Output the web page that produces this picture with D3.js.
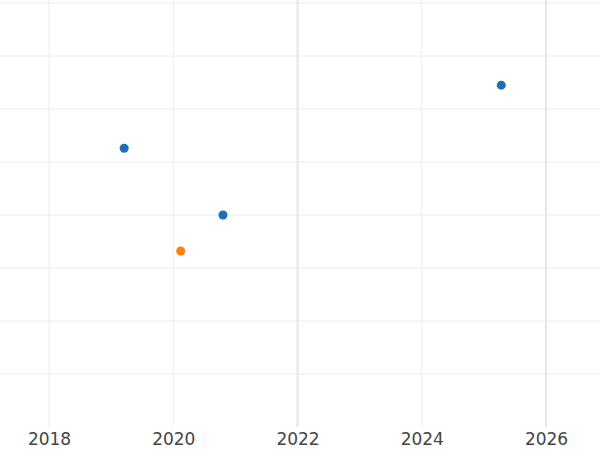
<!DOCTYPE html>
<html><head><meta charset="utf-8">
<script src="https://cdn.jsdelivr.net/npm/d3@7"></script>
<style>body{margin:0;background:#fff}</style></head>
<body><svg id="chart" width="600" height="450"></svg>
<script>
const years = [2019.21, 2020.80, 2020.12, 2025.28];
const values = [5.26, 4.0, 3.32, 6.45];
const groups = ["a", "a", "b", "a"];
const xTicks = [2018, 2020, 2022, 2024, 2026];
const yTicks = [1, 2, 3, 4, 5, 6, 7, 8];

const svg = d3.select("#chart");
const x = d3.scaleLinear().domain([2018, 2026]).range([49, 546]);
const y = d3.scaleLinear().domain([0, 8]).range([427, 3]);
const color = d3.scaleOrdinal().domain(["a", "b"]).range(["#1f6fb4", "#ff7f0e"]);

// gridlines
svg.append("g").selectAll("line").data(yTicks).join("line")
  .attr("x1", 0).attr("x2", 600)
  .attr("y1", d => y(d)).attr("y2", d => y(d))
  .attr("stroke", "#ececec").attr("stroke-width", 1);
svg.append("g").selectAll("line").data(xTicks).join("line")
  .attr("x1", d => x(d)).attr("x2", d => x(d))
  .attr("y1", 0).attr("y2", 427)
  .attr("stroke", d => (d === 2022 || d === 2026) ? "#e6e6e6" : "#ececec")
  .attr("stroke-width", d => (d === 2022 || d === 2026) ? 2 : 1);

// x axis labels
const xAxis = d3.axisBottom(x).tickValues(xTicks).tickFormat(d3.format("d")).tickSize(0).tickPadding(6);
const ax = svg.append("g").attr("transform", "translate(0,427)").call(xAxis);
ax.select(".domain").remove();
ax.selectAll("text").attr("font-family", "DejaVu Sans").attr("font-size", 17).attr("fill", "#444");

// points
svg.append("g").selectAll("circle").data(years).join("circle")
  .attr("cx", d => x(d))
  .attr("cy", (d, i) => y(values[i]))
  .attr("r", 4.5)
  .attr("fill", (d, i) => color(groups[i]));
</script></body></html>
